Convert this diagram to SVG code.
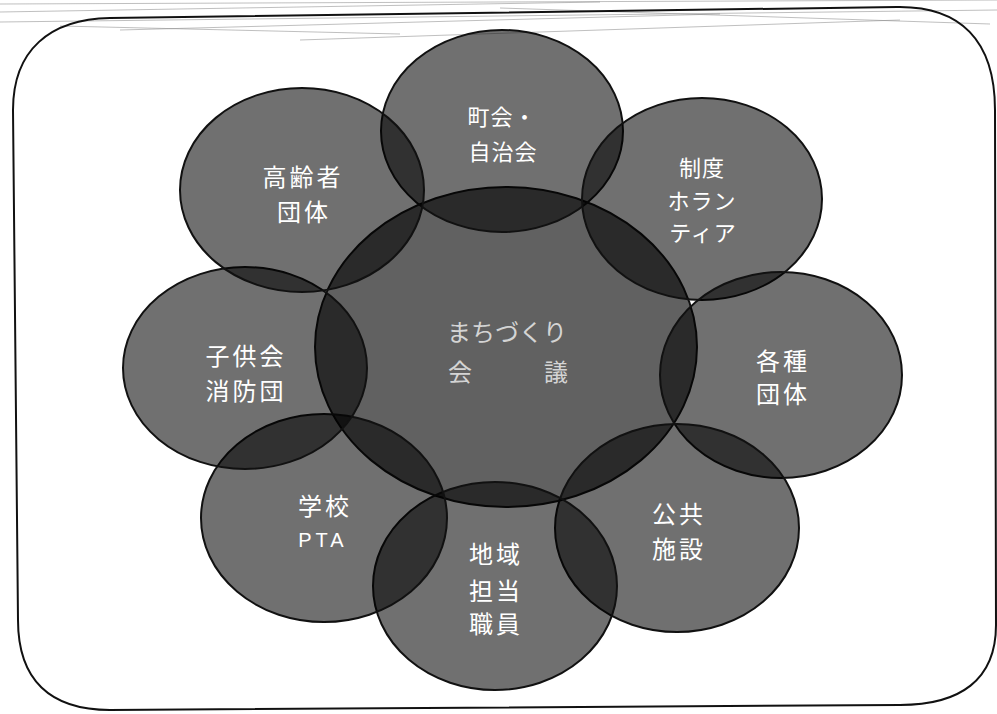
<svg xmlns="http://www.w3.org/2000/svg" width="997" height="714" viewBox="0 0 997 714">
<style>
.bub{fill:#000;fill-opacity:0.56;stroke:#111;stroke-width:2}
.core{fill:#000;fill-opacity:0.62;stroke:#111;stroke-width:2}
.lbl{font-family:"Noto Sans CJK JP","Noto Sans",sans-serif;font-size:24px;fill:#fff;text-anchor:middle;letter-spacing:3px}
.sm{font-size:22px;letter-spacing:1px}
.ctr{fill:#d4d4d4;letter-spacing:0}
.lat{font-family:"Liberation Sans",Arial,sans-serif;font-size:20px;letter-spacing:4px}
.noise{stroke:#8a8a8a;stroke-width:1;fill:none;opacity:0.55}
</style>
<rect width="997" height="714" fill="#fff"/>
<g id="scan-noise">
<path class="noise" d="M0,4 L997,0"/>
<path class="noise" d="M0,12 L600,2"/>
<path class="noise" d="M0,22 L997,10"/>
<path class="noise" d="M120,30 L720,14"/>
<path class="noise" d="M60,26 L400,34"/>
<path class="noise" d="M300,40 L900,20"/>
<path class="noise" d="M500,8 L990,24"/>
</g>
<g id="frame">
<path d="M110,18 L897,7 C960,6 995,40 995,110 L996,625 C996,680 960,705 900,705 L110,710 C50,710 18,680 18,620 L13,110 C13,50 50,19 110,18 Z" fill="none" stroke="#111" stroke-width="2"/>
</g>
<g id="center">
<ellipse class="core" cx="506" cy="347" rx="191" ry="160"/>
<text class="lbl ctr" x="507" y="341">まちづくり</text>
<text class="lbl ctr" x="508" y="381" xml:space="preserve">会　　　議</text>
</g>
<g id="chonaikai">
<ellipse class="bub" cx="502" cy="131" rx="121" ry="101"/>
<text class="lbl sm" x="502" y="125">町会・</text>
<text class="lbl sm" x="503" y="160">自治会</text>
</g>
<g id="seido-volunteer">
<ellipse class="bub" cx="702" cy="199" rx="120" ry="101"/>
<text class="lbl sm" x="702" y="176">制度</text>
<text class="lbl sm" x="702" y="209">ホラン</text>
<text class="lbl sm" x="703" y="241">ティア</text>
</g>
<g id="kakushu-dantai">
<ellipse class="bub" cx="781" cy="375" rx="121" ry="103"/>
<text class="lbl" x="783" y="370">各種</text>
<text class="lbl" x="783" y="403">団体</text>
</g>
<g id="kokyo-shisetsu">
<ellipse class="bub" cx="677" cy="528" rx="122" ry="104"/>
<text class="lbl" x="679" y="523">公共</text>
<text class="lbl" x="679" y="558">施設</text>
</g>
<g id="chiiki-tanto">
<ellipse class="bub" cx="495" cy="586" rx="122" ry="104"/>
<text class="lbl" x="496" y="563">地域</text>
<text class="lbl" x="496" y="600">担当</text>
<text class="lbl" x="496" y="633">職員</text>
</g>
<g id="gakko-pta">
<ellipse class="bub" cx="324" cy="518" rx="123" ry="104"/>
<text class="lbl" x="325" y="515">学校</text>
<text class="lbl lat" x="323" y="547">PTA</text>
</g>
<g id="kodomokai">
<ellipse class="bub" cx="245" cy="368" rx="122" ry="101"/>
<text class="lbl" x="246" y="365">子供会</text>
<text class="lbl" x="246" y="400">消防団</text>
</g>
<g id="koreisha">
<ellipse class="bub" cx="302" cy="190" rx="122" ry="102"/>
<text class="lbl" x="303" y="186">高齢者</text>
<text class="lbl" x="304" y="221">団体</text>
</g>
</svg>
